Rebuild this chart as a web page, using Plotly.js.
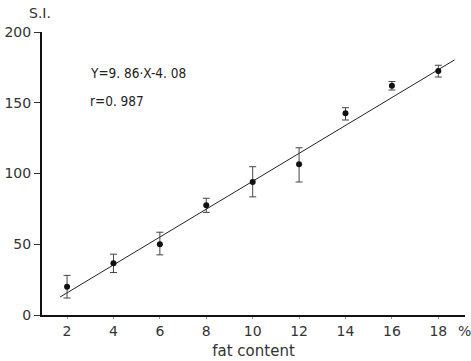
<!DOCTYPE html>
<html>
<head>
<meta charset="utf-8">
<script src="https://cdn.plot.ly/plotly-3.0.1.min.js"></script>
<style>html,body{margin:0;padding:0;background:#fff;}#chart{width:471px;height:361px;}</style>
</head>
<body>
<div id="chart"></div>
<script>
// Data
const fatContent = [2, 4, 6, 8, 10, 12, 14, 16, 18];
const siMean     = [20, 36.5, 50, 77.5, 94, 106.5, 142.5, 162, 172.5];
const errPlus    = [8, 6.5, 8.5, 5, 10.8, 11.7, 4, 3, 4];
const errMinus   = [8, 6.5, 7.5, 5, 10.5, 12.5, 4.7, 3, 4.3];
const fitX = [1.7, 18.7];
const fitY = [12.7, 180.3];
const xTicks = [2, 4, 6, 8, 10, 12, 14, 16, 18];
const yTicks = [0, 50, 100, 150, 200];

const traces = [
  {
    x: fitX, y: fitY, type: 'scatter', mode: 'lines',
    line: {color: '#222', width: 1}, hoverinfo: 'skip', cliponaxis: false
  },
  {
    x: fatContent, y: siMean, type: 'scatter', mode: 'markers',
    marker: {color: '#111', size: 6},
    error_y: {type: 'data', symmetric: false, array: errPlus, arrayminus: errMinus,
              color: '#444', thickness: 1, width: 3.5},
    cliponaxis: false
  }
];

const tickFont = {family: 'DejaVu Sans, sans-serif', size: 14, color: '#333'};
const layout = {
  width: 471, height: 361,
  margin: {l: 42, r: 6, t: 32, b: 46},
  paper_bgcolor: '#fff', plot_bgcolor: '#fff',
  showlegend: false,
  xaxis: {
    range: [0.92, 19.15], tickvals: xTicks, ticktext: xTicks.map(String),
    showgrid: false, zeroline: false, showline: true, linecolor: '#111', linewidth: 2,
    ticks: 'outside', ticklen: 2, tickcolor: '#999', tickwidth: 1,
    tickfont: tickFont,
    title: {text: 'fat content', font: {family: 'DejaVu Sans, sans-serif', size: 15, color: '#333'}, standoff: 8}
  },
  yaxis: {
    range: [0, 200], tickvals: yTicks, ticktext: yTicks.map(String),
    showgrid: false, zeroline: false, showline: true, linecolor: '#111', linewidth: 2,
    ticks: 'outside', ticklen: 6, tickcolor: '#333', tickwidth: 1,
    tickfont: tickFont
  },
  annotations: [
    {xref: 'paper', yref: 'paper', x: -0.005, y: 1.067, xanchor: 'center', yanchor: 'middle',
     text: 'S.I.', showarrow: false,
     font: {family: 'DejaVu Sans, sans-serif', size: 14, color: '#333'}},
    {xref: 'paper', yref: 'paper', x: 0.998, y: -0.056, xanchor: 'center', yanchor: 'middle',
     text: '%', showarrow: false,
     font: {family: 'DejaVu Sans, sans-serif', size: 14, color: '#333'}},
    {xref: 'x', yref: 'y', x: 2.9, y: 171, xanchor: 'left', text: 'Y=9. 86·X-4. 08', showarrow: false,
     font: {family: 'Liberation Sans Narrow, DejaVu Sans Condensed, sans-serif', size: 13.5, color: '#222'}},
    {xref: 'x', yref: 'y', x: 2.9, y: 151.5, xanchor: 'left', text: 'r=0. 987', showarrow: false,
     font: {family: 'Liberation Sans Narrow, DejaVu Sans Condensed, sans-serif', size: 13.5, color: '#222'}}
  ]
};

Plotly.newPlot('chart', traces, layout, {displayModeBar: false, staticPlot: true});
</script>
</body>
</html>
